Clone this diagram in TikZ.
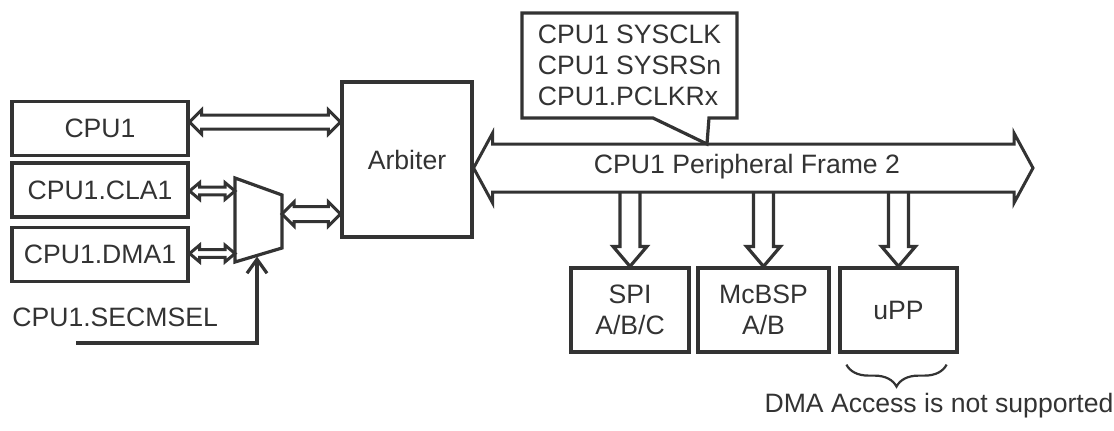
\documentclass[tikz,border=0pt]{standalone}
\usepackage{fontspec}
\setmainfont{Liberation Sans}
\usetikzlibrary{arrows.meta,calc,shapes.callouts,decorations.pathreplacing}

\colorlet{ink}{black!80}

% hollow two-headed bus arrow, horizontal: from #1 to #2 at height #3,
% shaft half-width #4, head half-width #5, head length #6
\newcommand{\dblarrow}[6]{%
  \draw[hollow] let \p1=(#1), \p2=(#2), \p3=(0,#3) in
    (\x1,\y3) -- (\x1+#6,\y3+#5) -- (\x1+#6,\y3+#4) -- (\x2-#6,\y3+#4)
    -- (\x2-#6,\y3+#5) -- (\x2,\y3) -- (\x2-#6,\y3-#5) -- (\x2-#6,\y3-#4)
    -- (\x1+#6,\y3-#4) -- (\x1+#6,\y3-#5) -- cycle;}
% hollow tap from the bus down into a peripheral
\newcommand{\tapdown}[2]{%
  \draw[wire] let \p1=(#1.north), \p2=(0,#2) in
    (\x1-5pt,\y2) -- (\x1-5pt,\y1+10pt) -- (\x1-8.5pt,\y1+10pt) -- (\x1,\y1)
    -- (\x1+8.5pt,\y1+10pt) -- (\x1+5pt,\y1+10pt) -- (\x1+5pt,\y2);}

\begin{document}
\begin{tikzpicture}[x=0.5pt,y=-0.5pt,
  font=\fontsize{13.3}{15.5}\selectfont,
  every node/.style={text=ink},
  box/.style={draw=ink,line width=1.6pt,align=center,inner sep=0pt},
  wire/.style={draw=ink,line width=1.6pt},
  hollow/.style={draw=ink,line width=1.5pt,fill=white},
  sel/.style={wire,-{Straight Barb[length=7pt,width=10pt,line width=1.6pt]}}
]
\useasboundingbox (0,0) rectangle (1114,430);

% masters
\node[box,minimum width=88pt,minimum height=27pt] (cpu1) at (100,128.5) {CPU1};
\node[box,minimum width=88pt,minimum height=27pt] (cla1) at (100,190) {CPU1.CLA1};
\node[box,minimum width=88pt,minimum height=27pt] (dma1) at (100,254.5) {CPU1.DMA1};
\node[box,minimum width=65pt,minimum height=77.5pt] (arbiter) at (407,159.5) {Arbiter};

% secondary master select mux
\draw[wire] (235,178) coordinate (mux-nw) -- (282,195) coordinate (mux-ne)
  -- (282,248) coordinate (mux-se) -- (235,262) coordinate (mux-sw) -- cycle;
\coordinate (mux-sel) at (257,256.5);
\node[anchor=west,inner sep=0pt] (secmsel) at (12,317) {CPU1.SECMSEL};
\coordinate (sel-start) at (76,343);
\draw[sel] (sel-start) -| (mux-sel);

\dblarrow{cpu1.east}{arbiter.west}{122}{3.5pt}{6pt}{6pt}
\dblarrow{cla1.east}{mux-nw}{191}{1.9pt}{4.2pt}{5pt}
\dblarrow{dma1.east}{mux-nw}{253.5}{1.9pt}{4.2pt}{5pt}
\dblarrow{mux-ne}{arbiter.west}{214}{3.75pt}{6pt}{6pt}

% peripheral frame
\coordinate (bus-end) at (1033,168);
\dblarrow{arbiter.east}{bus-end}{168}{12pt}{17.5pt}{9.5pt}
\node (buslabel) at (747,167) {CPU1 Peripheral Frame 2};

\node[rectangle callout,draw=ink,line width=1.6pt,fill=white,align=left,
  minimum width=107.5pt,minimum height=52.5pt,inner sep=0pt,
  callout absolute pointer={(707,144)},callout pointer width=28pt]
  (clk) at (629.5,65.5) {CPU1 SYSCLK\\CPU1 SYSRSn\\CPU1.PCLKRx};

% peripherals
\node[box,minimum width=59pt,minimum height=42pt] (spi) at (630,310) {SPI\\A/B/C};
\node[box,minimum width=65.5pt,minimum height=42pt] (mcbsp) at (763.5,310) {McBSP\\A/B};
\node[box,minimum width=58.5pt,minimum height=42pt] (upp) at (898.5,310) {uPP};

\tapdown{spi}{192}
\tapdown{mcbsp}{192}
\tapdown{upp}{192}

\draw[ink,line width=1.1pt,decorate,decoration={brace,amplitude=11pt}]
  ($(upp.south east)+(-12,11)$) -- ($(upp.south west)+(8,11)$);
\node (nodma) at (939,406) {DMA Access is not supported};
\end{tikzpicture}
\end{document}
